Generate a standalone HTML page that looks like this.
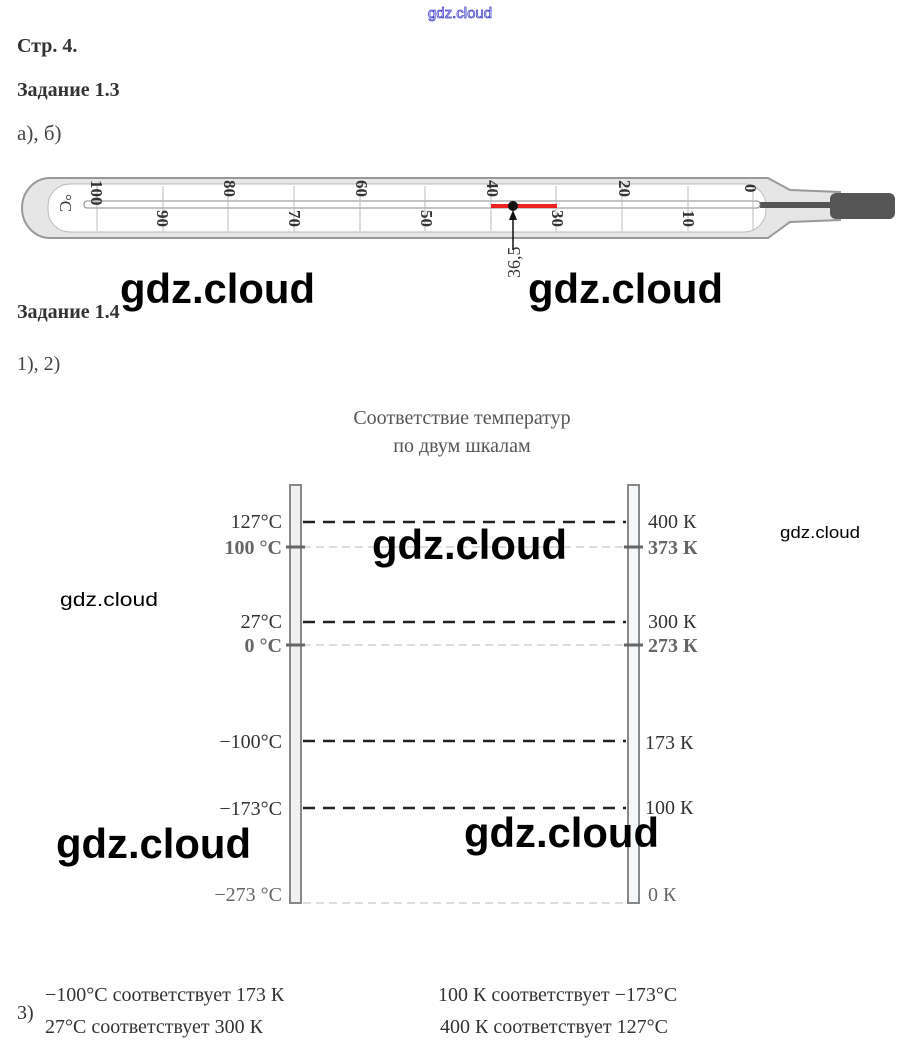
<!DOCTYPE html>
<html><head><meta charset="utf-8"><style>
html,body{margin:0;padding:0;background:#fff;width:920px;height:1054px;overflow:hidden}
svg{display:block}
</style></head><body>
<svg width="920" height="1054" viewBox="0 0 920 1054" xmlns="http://www.w3.org/2000/svg" font-family="Liberation Serif, serif">
<text x="460" y="18" text-anchor="middle" font-family="Liberation Sans, sans-serif" font-size="15" fill="#fff" stroke="#4444cc" stroke-width="0.8">gdz.cloud</text>
<text x="17" y="52" font-size="20" font-weight="bold" fill="#333">Стр. 4.</text>
<text x="17" y="96" font-size="20" font-weight="bold" fill="#333">Задание 1.3</text>
<text x="17" y="140" font-size="21" fill="#444">а), б)</text>

<!-- thermometer -->
<path d="M50,178 L768,178 L790,190 L840,192 L840,220 L790,222 L768,238 L50,238 A28,30 0 0 1 50,178 Z" fill="#e6e6e6" stroke="#999" stroke-width="2"/>
<rect x="48" y="184" width="718" height="48" rx="22" fill="#fff" stroke="#bbb"/>
<rect x="830" y="193" width="65" height="26" rx="6" fill="#555"/>
<rect x="760" y="202" width="75" height="6" fill="#555"/>
<rect x="84" y="201" width="676" height="7" rx="3" fill="#fff" stroke="#888"/>
<g stroke="#bbb" stroke-width="1">
<line x1="97" y1="186" x2="97" y2="231"/><line x1="163" y1="186" x2="163" y2="231"/><line x1="228" y1="186" x2="228" y2="231"/><line x1="294" y1="186" x2="294" y2="231"/><line x1="360" y1="186" x2="360" y2="231"/><line x1="425" y1="186" x2="425" y2="231"/><line x1="491" y1="186" x2="491" y2="231"/><line x1="556" y1="186" x2="556" y2="231"/><line x1="622" y1="186" x2="622" y2="231"/><line x1="688" y1="186" x2="688" y2="231"/><line x1="753" y1="186" x2="753" y2="231"/>
</g>
<g font-size="17" fill="#333" font-weight="bold">
<text transform="translate(91,180) rotate(90)">100</text>
<text transform="translate(224,180) rotate(90)">80</text>
<text transform="translate(356,180) rotate(90)">60</text>
<text transform="translate(487,180) rotate(90)">40</text>
<text transform="translate(619,180) rotate(90)">20</text>
<text transform="translate(745,184) rotate(90)">0</text>
<text transform="translate(157,210) rotate(90)">90</text>
<text transform="translate(289,210) rotate(90)">70</text>
<text transform="translate(421,210) rotate(90)">50</text>
<text transform="translate(552,210) rotate(90)">30</text>
<text transform="translate(683,210) rotate(90)">10</text>
<text transform="translate(60,194) rotate(90)" font-weight="normal">°C</text>
</g>
<rect x="491" y="204" width="66" height="4" fill="#e22"/>
<circle cx="513" cy="206" r="5" fill="#111"/>
<line x1="513" y1="250" x2="513" y2="214" stroke="#111" stroke-width="1.5"/>
<path d="M509,220 L513,210 L517,220 Z" fill="#111"/>
<text transform="translate(520,278) rotate(-90)" font-size="18" fill="#333">36,5</text>

<text x="17" y="318" font-size="20" font-weight="bold" fill="#333">Задание 1.4</text>
<text x="17" y="370" font-size="20" fill="#444">1), 2)</text>

<text x="462" y="424" text-anchor="middle" font-size="20" fill="#555">Соответствие температур</text>
<text x="462" y="452" text-anchor="middle" font-size="20" fill="#555">по двум шкалам</text>

<rect x="290" y="485" width="11" height="418" fill="#f0f0f0" stroke="#888" stroke-width="2"/>
<rect x="628" y="485" width="11" height="418" fill="#f3f7f9" stroke="#888" stroke-width="2"/>
<g stroke="#222" stroke-width="2.5" stroke-dasharray="12,8">
<line x1="303" y1="522" x2="626" y2="522"/>
<line x1="303" y1="622" x2="626" y2="622"/>
<line x1="303" y1="741" x2="626" y2="741"/>
<line x1="303" y1="808" x2="626" y2="808"/>
</g>
<g stroke="#bbb" stroke-width="1" stroke-dasharray="8,5">
<line x1="303" y1="547" x2="626" y2="547"/>
<line x1="303" y1="645" x2="626" y2="645"/>
<line x1="303" y1="903" x2="626" y2="903"/>
</g>
<g stroke="#666" stroke-width="3">
<line x1="286" y1="547" x2="305" y2="547"/><line x1="286" y1="645" x2="305" y2="645"/>
<line x1="624" y1="547" x2="643" y2="547"/><line x1="624" y1="645" x2="643" y2="645"/>
</g>
<g font-size="20" fill="#333" text-anchor="end">
<text x="282" y="528">127°C</text>
<text x="282" y="554" fill="#666" font-weight="bold">100 °C</text>
<text x="282" y="628">27°C</text>
<text x="282" y="652" fill="#666" font-weight="bold">0 °C</text>
<text x="282" y="748">−100°C</text>
<text x="282" y="815">−173°C</text>
<text x="282" y="901" fill="#666">−273 °C</text>
</g>
<g font-size="20" fill="#333">
<text x="648" y="528">400 К</text>
<text x="648" y="554" fill="#666" font-weight="bold">373 К</text>
<text x="648" y="628">300 К</text>
<text x="648" y="652" fill="#666" font-weight="bold">273 К</text>
<text x="645" y="749">173 К</text>
<text x="645" y="814">100 К</text>
<text x="648" y="901" fill="#666">0 К</text>
</g>

<g font-family="Liberation Sans, sans-serif" fill="#000" font-weight="bold">
<text x="120" y="303" font-size="42" textLength="195" lengthAdjust="spacingAndGlyphs">gdz.cloud</text>
<text x="528" y="303" font-size="42" textLength="195" lengthAdjust="spacingAndGlyphs">gdz.cloud</text>
<text x="372" y="559" font-size="42" textLength="195" lengthAdjust="spacingAndGlyphs">gdz.cloud</text>
<text x="464" y="847" font-size="42" textLength="195" lengthAdjust="spacingAndGlyphs">gdz.cloud</text>
<text x="56" y="858" font-size="42" textLength="195" lengthAdjust="spacingAndGlyphs">gdz.cloud</text>
<text x="60" y="606" font-size="19" font-weight="normal" textLength="98" lengthAdjust="spacingAndGlyphs">gdz.cloud</text>
<text x="780" y="538" font-size="17" font-weight="normal" textLength="80" lengthAdjust="spacingAndGlyphs">gdz.cloud</text>
</g>

<g font-size="20" fill="#333">
<text x="17" y="1019">3)</text>
<text x="45" y="1001">−100°C соответствует 173 К</text>
<text x="45" y="1033">27°C соответствует 300 К</text>
<text x="438" y="1001">100 К соответствует  −173°C</text>
<text x="440" y="1033">400 К соответствует 127°C</text>
</g>
</svg>
</body></html>
